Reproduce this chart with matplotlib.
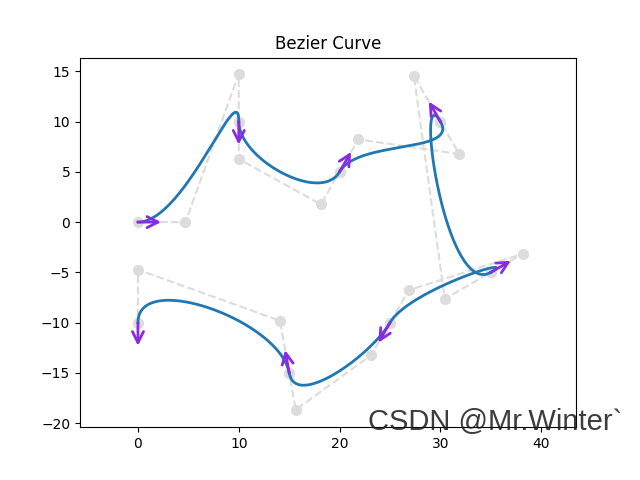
import numpy as np
import matplotlib
matplotlib.use("Agg")
import matplotlib.pyplot as plt

# waypoints (x, y) and heading in degrees
wp_x = [0, 10, 20, 30, 35, 25, 15, 0]
wp_y = [0, 10, 5, 10, -5, -10, -15, -10]
wp_yaw = [0, -90, 60, 120, 30, -120, 100, -90]

ARROW_LEN = 2.3


def bezier(ctrl, n=200):
    t = np.linspace(0, 1, n)[:, None]
    p0, p1, p2, p3 = ctrl
    return ((1 - t) ** 3) * p0 + 3 * ((1 - t) ** 2) * t * p1 \
        + 3 * (1 - t) * t ** 2 * p2 + t ** 3 * p3


fig, ax = plt.subplots(figsize=(6.4, 4.8), dpi=100)

for i in range(len(wp_x) - 1):
    s = np.array([wp_x[i], wp_y[i]], dtype=float)
    g = np.array([wp_x[i + 1], wp_y[i + 1]], dtype=float)
    d = np.hypot(*(g - s)) / 3
    ys, yg = np.radians(wp_yaw[i]), np.radians(wp_yaw[i + 1])
    c1 = s + d * np.array([np.cos(ys), np.sin(ys)])
    c2 = g - d * np.array([np.cos(yg), np.sin(yg)])
    ctrl = np.array([s, c1, c2, g])
    ax.plot(ctrl[:, 0], ctrl[:, 1], '--o', color='#dcdcdc', lw=1.5, ms=7, zorder=1)
    path = bezier(ctrl)
    ax.plot(path[:, 0], path[:, 1], color='tab:blue', lw=2, zorder=2)

for x, y, yaw in zip(wp_x, wp_y, wp_yaw):
    r = np.radians(yaw)
    ax.annotate('', xy=(x + ARROW_LEN * np.cos(r), y + ARROW_LEN * np.sin(r)), xytext=(x, y),
                arrowprops=dict(arrowstyle='->', color='blueviolet', lw=2,
                                mutation_scale=20, shrinkA=0, shrinkB=0), zorder=3)

ax.set_xlim(-5.75, 43.45)
ax.set_ylim(-20.4, 16.36)
ax.set_title('Bezier Curve')

fig.text(0.972, 0.104, 'CSDN @Mr.Winter`', fontsize=21, family='Liberation Sans',
         color='#1a1a1a', alpha=0.85, ha='right', va='baseline')

fig.savefig('out.png')
